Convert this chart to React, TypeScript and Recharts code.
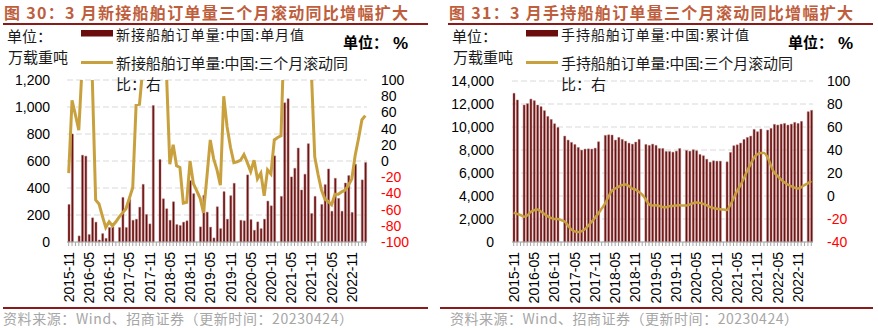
import { ComposedChart, Bar, Line, XAxis, YAxis, CartesianGrid } from "recharts";

// monthly, 2015-11 .. 2023-03 (January figures are not published)
const months = [
  "2015-11", "2015-12",
  "2016-01", "2016-02", "2016-03", "2016-04", "2016-05", "2016-06", "2016-07", "2016-08", "2016-09", "2016-10", "2016-11", "2016-12",
  "2017-01", "2017-02", "2017-03", "2017-04", "2017-05", "2017-06", "2017-07", "2017-08", "2017-09", "2017-10", "2017-11", "2017-12",
  "2018-01", "2018-02", "2018-03", "2018-04", "2018-05", "2018-06", "2018-07", "2018-08", "2018-09", "2018-10", "2018-11", "2018-12",
  "2019-01", "2019-02", "2019-03", "2019-04", "2019-05", "2019-06", "2019-07", "2019-08", "2019-09", "2019-10", "2019-11", "2019-12",
  "2020-01", "2020-02", "2020-03", "2020-04", "2020-05", "2020-06", "2020-07", "2020-08", "2020-09", "2020-10", "2020-11", "2020-12",
  "2021-01", "2021-02", "2021-03", "2021-04", "2021-05", "2021-06", "2021-07", "2021-08", "2021-09", "2021-10", "2021-11", "2021-12",
  "2022-01", "2022-02", "2022-03", "2022-04", "2022-05", "2022-06", "2022-07", "2022-08", "2022-09", "2022-10", "2022-11", "2022-12",
  "2023-01", "2023-02", "2023-03",
];

const xTickLabels = [
  "2015-11", "2016-05", "2016-11", "2017-05", "2017-11", "2018-05", "2018-11", "2019-05",
  "2019-11", "2020-05", "2020-11", "2021-05", "2021-11", "2022-05", "2022-11",
];

// 新接船舶订单量:中国:单月值 (万载重吨)
const newOrders = [
  278, 800,
  null, 45, 643, 636, 55, 179, 147, 15, 62, 27, 107, 112,
  null, 107, 330, 107, 315, 161, 169, 258, 427, 204, 134, 1011,
  null, 611, 320, 246, 161, 298, 129, 122, 147, 157, 455, 358,
  null, 112, 345, 221, 110, 30, 261, 99, 373, 169, 343, 435,
  null, 161, 157, 497, 166, 87, 149, 99, 169, 303, 268, 638,
  null, 338, 1031, 1061, 482, 546, 696, 385, 502, 728, 211, 338,
  null, 278, 425, 541, 228, 472, 323, 228, 437, 492, 219, 576,
  null, 460, 589,
];

// 新接船舶订单量:中国:三个月滚动同比 (%)
const newOrdersYoY = [
  -15, 75,
  57, 38, 118, 200, 180, 102, -48, -53, -68, -82, -75, -80,
  -75, -69, -64, -59, -46, -33, 69, 70, 115, 200, 260, 300,
  300, 260, 200, 110, -4, 20, -6, -8, -52, -51, 0, -28,
  -37, -46, -64, -20, 26, 3, -11, -30, 80, 42, 17, -2,
  -1, 1, 8, -2, -13, 1, -22, -15, -43, -11, -16, 26,
  29, 31, 170, 300, 350, 350, 300, 250, 200, 160, 110, 5,
  -17, -36, -47, -50, -54, -41, -41, -38, -36, -30, -22, 7,
  28, 51, 56,
];

// 手持船舶订单量:中国:累计值 (万载重吨)
const orderbook = [
  12930, 12350,
  null, 11910, 12030, 12430, 12290, 11910, 11770, 11420, 10920, 10660, 10280, 9960,
  null, 9210, 8860, 8660, 8480, 8220, 7990, 8080, 8100, 8080, 8160, 8715,
  null, 9270, 9320, 9300, 8860, 9090, 8920, 8770, 8600, 8510, 8690, 8920,
  null, 8480, 8400, 8510, 8400, 8130, 8130, 7870, 7870, 7810, 7900, 8130,
  null, 7960, 7900, 8020, 7930, 7610, 7500, 7200, 6940, 7060, 7030, 7030,
  null, 6970, 7790, 8370, 8450, 8600, 8920, 9090, 9210, 9790, 9590, 9820,
  null, 9730, 9880, 10230, 10170, 10250, 10310, 10170, 10250, 10400, 10310, 10490,
  null, 11330, 11450,
];

// 手持船舶订单量:中国:三个月滚动同比 (%)
const orderbookYoY = [
  -14.4, -15.5,
  -16.5, -18, -17, -14, -12.4, -11.8, -13.5, -15.5, -17.5, -19, -20, -20,
  -21, -22, -25.5, -29, -30.7, -31.3, -30.7, -29, -26, -22.6, -19, -15.3,
  -11, -6.6, -0.8, 4.5, 6.5, 8, 9.5, 10, 8.8, 6.5, 5.6, 3.6,
  1.3, -2.8, -7.2, -8.3, -8, -8.6, -9.5, -9.8, -8.9, -8.6, -8.3, -8,
  -8.3, -8.3, -7.5, -6.3, -5.7, -6, -6.9, -8, -9.5, -10.4, -11, -11.5,
  -11.8, -12.2, -8, -2, 4, 9, 15, 21.5, 27.5, 33, 36.3, 37.5,
  37.5, 34, 27, 20.5, 17.5, 14.5, 12, 10, 8.5, 7.3, 6.5, 7.5,
  9.5, 11, 13,
];

const newOrdersTicks = [0, 200, 400, 600, 800, 1000, 1200];
const newOrdersYoYTicks = [-100, -80, -60, -40, -20, 0, 20, 40, 60, 80, 100];
const orderbookTicks = [0, 2000, 4000, 6000, 8000, 10000, 12000, 14000];
const orderbookYoYTicks = [-40, -20, 0, 20, 40, 60, 80, 100];

const newData = months.map((m, i) => ({ month: m, value: newOrders[i], yoy: newOrdersYoY[i] }));
const bookData = months.map((m, i) => ({ month: m, value: orderbook[i], yoy: orderbookYoY[i] }));

const NUM_FONT = "'Liberation Sans', Arial, sans-serif";
const CN_FONT = "'Noto Sans CJK SC', 'Noto Sans', sans-serif";
const BAR = "#6B0D0D";
const BAR_EDGE = "#B07878";
const GOLD = "#C9A03E";
const TITLE = "#BE5E3C";
const RULE = "#8B1A1A";

const leftTick = (off: number) => (p: any) => (
  <text x={p.x - off} y={p.y} dy="0.36em" textAnchor="end" fontSize={14} fontFamily={NUM_FONT} fill="#000">
    {Number(p.payload.value).toLocaleString("en-US")}
  </text>
);

const rightTick = (off: number) => (p: any) => (
  <text x={p.x + off} y={p.y} dy="0.36em" textAnchor="start" fontSize={14} fontFamily={NUM_FONT}
    fill={p.payload.value < 0 ? "#FF0000" : "#000"}>
    {p.payload.value}
  </text>
);

const monthTick = (p: any) => {
  if (!xTickLabels.includes(p.payload.value)) return <g />;
  return (
    <g transform={`translate(${p.x},${p.y + 4})`}>
      <text transform="rotate(-90)" textAnchor="end" dy="0.36em" fontSize={14} fontFamily={NUM_FONT} fill="#000">
        {p.payload.value}
      </text>
    </g>
  );
};

const Panel = ({ x0, title, unit, name1, name2 }: any) => (
  <g>
    <text x={x0 + 1} y={18.5} fontSize={16} fontWeight="bold" fontFamily={CN_FONT} fill={TITLE} textLength={404} lengthAdjust="spacing">
      {title}
    </text>
    <rect x={x0} y={23} width={425} height={2} fill={RULE} />
    <text x={x0 + 4} y={42} fontSize={15} fontFamily={CN_FONT} fill="#1a1a1a">单位：</text>
    <text x={x0 + 5} y={63} fontSize={15} fontFamily={CN_FONT} fill="#1a1a1a">{unit}</text>
    <rect x={x0 + 78} y={30} width={32} height={6.5} fill={BAR} />
    <text x={x0 + 113} y={40} fontSize={14} fontFamily={CN_FONT} fill="#1a1a1a" textLength={188} lengthAdjust="spacing">{name1}</text>
    <line x1={x0 + 78} x2={x0 + 110} y1={62.5} y2={62.5} stroke={GOLD} strokeWidth={3} />
    <text x={x0 + 113} y={69} fontSize={15} fontFamily={CN_FONT} fill="#1a1a1a" textLength={232} lengthAdjust="spacing">{name2}</text>
    <text x={x0 + 113} y={90} fontSize={15} fontFamily={CN_FONT} fill="#1a1a1a">比：右</text>
    <text x={x0 + 340} y={48} fontSize={15} fontWeight="bold" fontFamily={CN_FONT} fill="#000">单位：</text>
    <text x={x0 + 390} y={49} fontSize={17} fontWeight="bold" fontFamily={NUM_FONT} fill="#000">%</text>
  </g>
);

export default function App() {
  return (
    <div style={{ position: "absolute", left: 0, top: 0, width: 878, height: 328, background: "#fff", overflow: "hidden" }}>
      <div style={{ position: "absolute", left: 0, top: 0 }}>
        <ComposedChart width={440} height={310} data={newData} margin={{ top: 80, right: 0, bottom: 0, left: 0 }}>
          <CartesianGrid yAxisId="l" vertical={false} stroke="#D9D9D9" strokeDasharray="6 3" />
          <XAxis dataKey="month" interval={0} height={68} tickSize={4} tickMargin={2} stroke="#A6A6A6" tick={monthTick} />
          <YAxis yAxisId="l" width={67} domain={[0, 1200]} ticks={newOrdersTicks} interval={0}
            axisLine={false} tickLine={false} tickSize={0} tickMargin={0} tick={leftTick(17)} />
          <YAxis yAxisId="r" orientation="right" width={73} domain={[-100, 100]} ticks={newOrdersYoYTicks} interval={0}
            allowDataOverflow axisLine={false} tickLine={false} tickSize={0} tickMargin={0} tick={rightTick(14)} />
          <Bar yAxisId="l" dataKey="value" fill={BAR} stroke={BAR_EDGE} strokeWidth={0.5} barSize={2} isAnimationActive={false} />
          <Line yAxisId="r" dataKey="yoy" type="linear" stroke={GOLD} strokeWidth={3} dot={false} isAnimationActive={false} />
        </ComposedChart>
      </div>
      <div style={{ position: "absolute", left: 440, top: 0 }}>
        <ComposedChart width={438} height={310} data={bookData} margin={{ top: 81, right: 0, bottom: 0, left: 0 }}>
          <CartesianGrid yAxisId="l" vertical={false} stroke="#D9D9D9" strokeDasharray="6 3" />
          <XAxis dataKey="month" interval={0} height={68} tickSize={4} tickMargin={2} stroke="#A6A6A6" tick={monthTick} />
          <YAxis yAxisId="l" width={72} domain={[0, 14000]} ticks={orderbookTicks} interval={0}
            axisLine={false} tickLine={false} tickSize={0} tickMargin={0} tick={leftTick(18)} />
          <YAxis yAxisId="r" orientation="right" width={65} domain={[-40, 100]} ticks={orderbookYoYTicks} interval={0}
            allowDataOverflow axisLine={false} tickLine={false} tickSize={0} tickMargin={0} tick={rightTick(14)} />
          <Bar yAxisId="l" dataKey="value" fill={BAR} stroke={BAR_EDGE} strokeWidth={0.5} barSize={2} isAnimationActive={false} />
          <Line yAxisId="r" dataKey="yoy" type="monotone" stroke={GOLD} strokeWidth={2.5} dot={false} isAnimationActive={false} />
        </ComposedChart>
      </div>
      <svg width={878} height={328} style={{ position: "absolute", left: 0, top: 0, pointerEvents: "none" }}>
        <Panel x0={3} title="图 30：3 月新接船舶订单量三个月滚动同比增幅扩大" unit="万载重吨"
          name1="新接船舶订单量:中国:单月值" name2="新接船舶订单量:中国:三个月滚动同" />
        <Panel x0={448} title="图 31：3 月手持船舶订单量三个月滚动同比增幅扩大" unit="万载重吨"
          name1="手持船舶订单量:中国:累计值" name2="手持船舶订单量:中国:三个月滚动同" />
        <rect x={3} y={307} width={425} height={2} fill={RULE} />
        <rect x={440} y={307} width={433} height={2} fill={RULE} />
        <text x={3} y={324} fontSize={14} fontFamily={CN_FONT} fill="#A6A6A6" textLength={350} lengthAdjust="spacing">
          资料来源：Wind、招商证券（更新时间：20230424）
        </text>
        <text x={450} y={324} fontSize={14} fontFamily={CN_FONT} fill="#A6A6A6" textLength={348} lengthAdjust="spacing">
          资料来源：Wind、招商证券（更新时间：20230424）
        </text>
      </svg>
    </div>
  );
}
